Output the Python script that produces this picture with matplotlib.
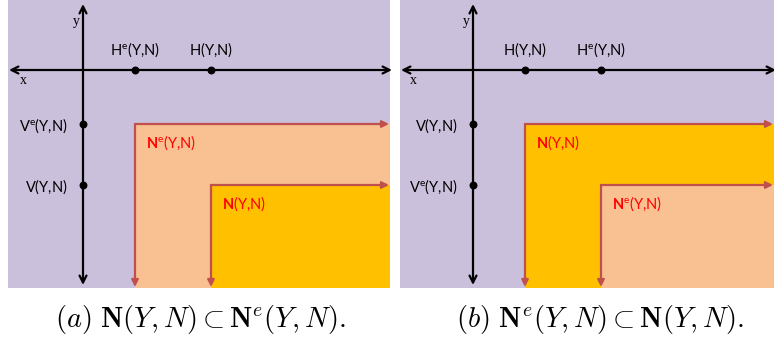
"""Two sketches of nested regions N(Y,N) and N^e(Y,N) on x/y axes"""

import matplotlib.pyplot as plt
from matplotlib.patches import Rectangle

plt.rcParams["mathtext.fontset"] = "custom"
plt.rcParams["mathtext.rm"] = "Lato"
plt.rcParams["mathtext.bf"] = "Lato:bold"
plt.rcParams["mathtext.it"] = "Lato:italic"

# coordinates measured from the origin of each sketch
h_pos = [52, 128]        # points on the x axis (also the corner x of the regions)
v_pos = [-54, -115]      # points on the y axis (also the corner y of the regions)

h_names_a = ["H^e", "H"]
v_names_a = ["V^e", "V"]
set_names_a = ["N^e", "N"]

h_names_b = ["H", "H^e"]
v_names_b = ["V", "V^e"]
set_names_b = ["N", "N^e"]

captions = [
    r"$(a)\ \mathbf{N}(Y,N) \subset \mathbf{N}^e(Y,N).$",
    r"$(b)\ \mathbf{N}^e(Y,N) \subset \mathbf{N}(Y,N).$",
]

BG = "#CBC0DB"
EDGE = "#C0504D"
FILL = {"N^e": "#F9C091", "N": "#FFC000"}


def fmt(name: str, bold: bool = False) -> str:
    """Turn 'H^e' into 'H(sup e)(Y,N)' mathtext"""
    base, _, sup = name.partition("^")
    head = r"\mathbf{%s}" % base if bold else r"\mathregular{%s}" % base
    if sup:
        head += r"^\mathregular{%s}" % sup
    return "$" + head + "$(Y,N)"


def draw_panel(ax, xlim, h_names, v_names, set_names) -> None:
    ax.set_xlim(*xlim)
    ax.set_ylim(-218, 70)
    ax.set_facecolor(BG)
    for s in ax.spines.values():
        s.set_visible(False)
    ax.set_xticks([])
    ax.set_yticks([])
    x0, x1 = ax.get_xlim()
    y0, y1 = ax.get_ylim()

    # nested regions, outer one first
    for hx, vy, name in zip(h_pos, v_pos, set_names):
        ax.add_patch(Rectangle((hx, y0), x1 - hx, vy - y0, facecolor=FILL[name],
                               edgecolor="none", zorder=1))
        arrow = dict(arrowstyle="-|>,head_length=0.4,head_width=0.2", color=EDGE,
                     lw=1.6, shrinkA=0, shrinkB=0)
        ax.annotate("", xy=(x1 - 1, vy), xytext=(hx, vy), arrowprops=arrow, zorder=2)
        ax.annotate("", xy=(hx, y0 + 1), xytext=(hx, vy), arrowprops=arrow, zorder=2)
        ax.text(hx + 11, vy - 19, fmt(name, bold=True), color="red",
                fontsize=10.5, family="Lato", va="center", ha="left", zorder=3)

    # coordinate axes
    axis_arrow = dict(arrowstyle="<->,head_length=0.5,head_width=0.25", color="black",
                      lw=1.6, shrinkA=0, shrinkB=0)
    ax.annotate("", xy=(x0 + 1, 0), xytext=(x1 + 2, 0), arrowprops=axis_arrow, zorder=4)
    ax.annotate("", xy=(0, 66), xytext=(0, -215), arrowprops=axis_arrow, zorder=4)
    ax.text(-7, 48, "y", family="Liberation Serif", fontsize=10, ha="center", va="center")
    ax.text(-60, -10, "x", family="Liberation Serif", fontsize=10, ha="center", va="center")

    ax.scatter(h_pos, [0, 0], s=22, color="black", zorder=5)
    ax.scatter([0, 0], v_pos, s=22, color="black", zorder=5)
    for hx, name in zip(h_pos, h_names):
        ax.text(hx, 20, fmt(name), family="Lato", fontsize=10.5, ha="center", va="center")
    for vy, name in zip(v_pos, v_names):
        ax.text(-15, vy - 2, fmt(name), family="Lato", fontsize=10.5, ha="right", va="center")


fig = plt.figure(figsize=(7.74, 3.45), dpi=100)
W, H = 774, 345
ax_a = fig.add_axes([8 / W, 57 / H, 382 / W, 288 / H])
ax_b = fig.add_axes([400 / W, 57 / H, 374 / W, 288 / H])
draw_panel(ax_a, (-75, 307), h_names_a, v_names_a, set_names_a)
draw_panel(ax_b, (-73, 301), h_names_b, v_names_b, set_names_b)

for cx, cap in zip([200, 600], captions):
    fig.text(cx / W, 1 - 320 / H, cap, fontsize=20.5, math_fontfamily="cm",
             ha="center", va="center")

fig.savefig("out.png", dpi=100)
